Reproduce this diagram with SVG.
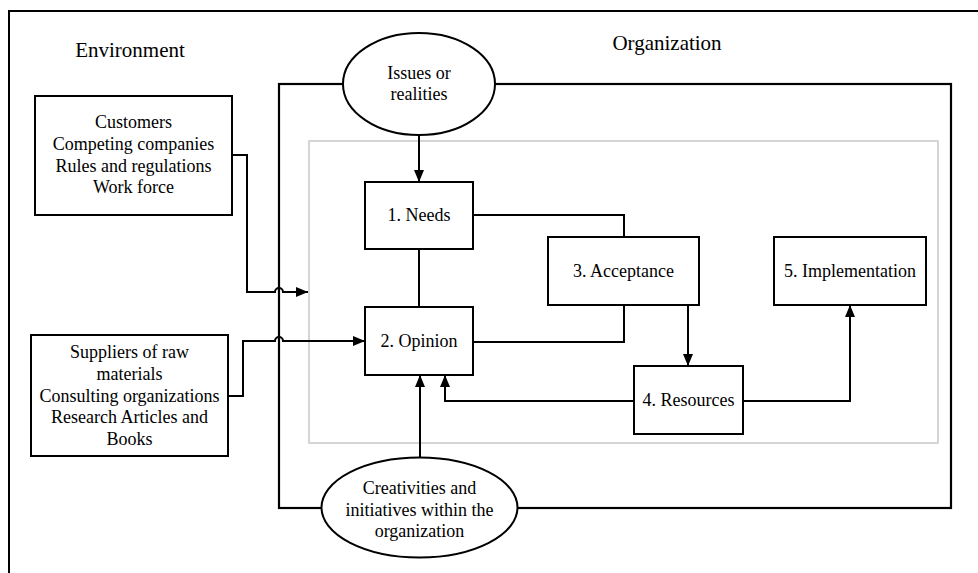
<svg xmlns="http://www.w3.org/2000/svg" width="978" height="573" viewBox="0 0 978 573">
<style>
.box{fill:#fff;stroke:#000;stroke-width:2}
.ell{fill:#fff;stroke:#000;stroke-width:2}
.t{font-family:"Liberation Serif","Times New Roman",serif;font-size:18px;fill:#000;text-anchor:middle}
.h{font-family:"Liberation Serif","Times New Roman",serif;font-size:21px;fill:#000;text-anchor:middle}
.c{fill:none;stroke:#000;stroke-width:2}
</style>
<defs>
<marker id="arr" markerUnits="userSpaceOnUse" viewBox="0 0 12 10" refX="12" refY="5" markerWidth="12" markerHeight="10" orient="auto">
<path d="M0,0 L12,5 L0,10 z" fill="#000"/>
</marker>
</defs>
<rect width="978" height="573" fill="#fff"/>
<g id="frame">
<path d="M9,573 V11 H978" fill="none" stroke="#000" stroke-width="2"/>
<text class="h" x="130" y="57">Environment</text>
<text class="h" x="667" y="50">Organization</text>
</g>
<g id="organization">
<rect x="279" y="84" width="672" height="424" fill="none" stroke="#000" stroke-width="2.2"/>
</g>
<g id="process-area">
<rect x="309" y="141" width="629" height="302" fill="none" stroke="#c8c8c8" stroke-width="1.5"/>
</g>
<g id="connectors">
<path class="c" d="M232,155 H247 V292 H275 a4,4 0 0 1 8,0 H308" marker-end="url(#arr)"/>
<path class="c" d="M228,396 H243 V341 H275 a4,4 0 0 1 8,0 H365" marker-end="url(#arr)"/>
<path class="c" d="M419,135 V182" marker-end="url(#arr)"/>
<path class="c" d="M419,249 V307"/>
<path class="c" d="M473,215 H624 V237"/>
<path class="c" d="M624,305 V342 H473"/>
<path class="c" d="M688,305 V366" marker-end="url(#arr)"/>
<path class="c" d="M743,401 H850 V305" marker-end="url(#arr)"/>
<path class="c" d="M634,401 H445 V375" marker-end="url(#arr)"/>
<path class="c" d="M420,457 V375" marker-end="url(#arr)"/>
</g>
<g id="customers">
<rect class="box" x="35" y="96" width="197" height="119"/>
<text class="t" x="133.5" y="128">Customers</text>
<text class="t" x="133.5" y="150">Competing companies</text>
<text class="t" x="133.5" y="172">Rules and regulations</text>
<text class="t" x="133.5" y="193">Work force</text>
</g>
<g id="suppliers">
<rect class="box" x="31" y="335" width="197" height="121"/>
<text class="t" x="129.5" y="358">Suppliers of raw</text>
<text class="t" x="129.5" y="380">materials</text>
<text class="t" x="129.5" y="402">Consulting organizations</text>
<text class="t" x="129.5" y="423">Research Articles and</text>
<text class="t" x="129.5" y="445">Books</text>
</g>
<g id="issues">
<ellipse class="ell" cx="419" cy="84" rx="76" ry="51"/>
<text class="t" x="419" y="79">Issues or</text>
<text class="t" x="419" y="100">realities</text>
</g>
<g id="creativities">
<ellipse class="ell" cx="419.5" cy="507.5" rx="98" ry="50"/>
<text class="t" x="419.5" y="494">Creativities and</text>
<text class="t" x="419.5" y="516">initiatives within the</text>
<text class="t" x="419.5" y="537">organization</text>
</g>
<g id="needs">
<rect class="box" x="365" y="182" width="108" height="67"/>
<text class="t" x="419" y="221">1. Needs</text>
</g>
<g id="opinion">
<rect class="box" x="365" y="307" width="108" height="68"/>
<text class="t" x="419" y="347">2. Opinion</text>
</g>
<g id="acceptance">
<rect class="box" x="548" y="237" width="151" height="68"/>
<text class="t" x="623.5" y="277">3. Acceptance</text>
</g>
<g id="resources">
<rect class="box" x="634" y="366" width="109" height="68"/>
<text class="t" x="688.5" y="406">4. Resources</text>
</g>
<g id="implementation">
<rect class="box" x="774" y="237" width="152" height="68"/>
<text class="t" x="850" y="277">5. Implementation</text>
</g>
</svg>
